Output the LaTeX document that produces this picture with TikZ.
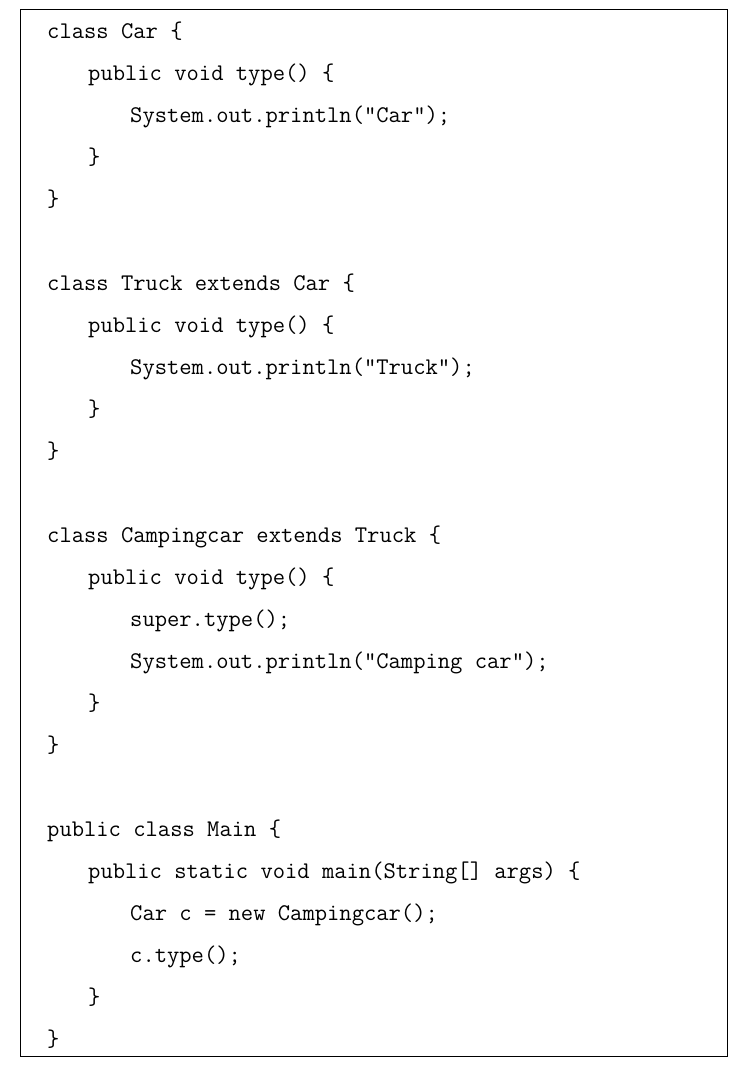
\documentclass[tikz,border=0pt]{standalone}
\usepackage{fontspec}
\usetikzlibrary{positioning}

\tikzset{code/.style={anchor=base west,inner sep=0pt,font=\ttfamily\fontsize{23.9}{26}\selectfont}}

\begin{document}
\begin{tikzpicture}[x=1pt,y=-1pt]
\useasboundingbox (0,0) rectangle (740,1069);

\draw[line width=1pt] (20,9) rectangle (727,1056);

\node[code] (car) at (47,38) {class Car \{};
\node[code] (cartype) at (88,80) {public void type() \{};
\node[code] (carprint) at (130,122) {System.out.println("Car");};
\node[code] (carend1) at (88,164) {\}};
\node[code] (carend2) at (47,206) {\}};

\node[code] (truck) at (47,290) {class Truck extends Car \{};
\node[code] (trucktype) at (88,332) {public void type() \{};
\node[code] (truckprint) at (130,374) {System.out.println("Truck");};
\node[code] (truckend1) at (88,416) {\}};
\node[code] (truckend2) at (47,458) {\}};

\node[code] (camp) at (47,542) {class Campingcar extends Truck \{};
\node[code] (camptype) at (88,584) {public void type() \{};
\node[code] (campsuper) at (130,626) {super.type();};
\node[code] (campprint) at (130,668) {System.out.println("Camping car");};
\node[code] (campend1) at (88,710) {\}};
\node[code] (campend2) at (47,752) {\}};

\node[code] (main) at (47,836) {public class Main \{};
\node[code] (mainfn) at (88,878) {public static void main(String[] args) \{};
\node[code] (mainnew) at (130,920) {Car c = new Campingcar();};
\node[code] (maincall) at (130,962) {c.type();};
\node[code] (mainend1) at (88,1004) {\}};
\node[code] (mainend2) at (47,1046) {\}};

\end{tikzpicture}
\end{document}
